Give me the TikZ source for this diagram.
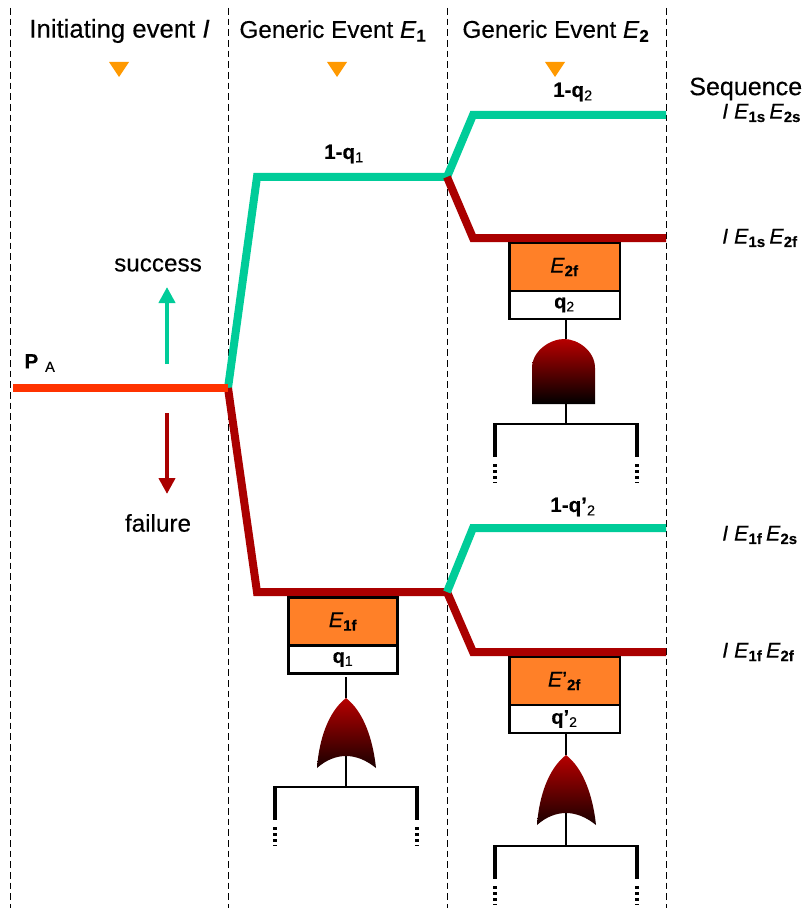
\documentclass[tikz,border=0pt]{standalone}
\usepackage{fontspec}
\setmainfont[FakeBold=0.25]{Liberation Sans}
\usetikzlibrary{arrows.meta}
\definecolor{goodgreen}{RGB}{0,204,153}
\definecolor{badred}{RGB}{170,0,0}
\definecolor{startred}{RGB}{255,51,0}
\definecolor{boxorange}{RGB}{255,128,40}
\definecolor{markorange}{RGB}{255,153,0}
\newcommand{\seqlabel}[2]{\textit{I E}\textsubscript{\textbf{#1}}\,\textit{E}\textsubscript{\textbf{#2}}}
\tikzset{
    column/.style={line width=0.6pt, dash pattern=on 5pt off 3pt},
    branch/.style={line width=6pt, line join=miter, miter limit=4},
    good/.style={branch, goodgreen},
    bad/.style={branch, badred},
    title/.style={font=\fontsize{18.2}{20}\selectfont, inner sep=0pt},
    prob/.style={font=\fontsize{15.5}{18}\selectfont\bfseries, inner sep=0pt},
    seq/.style={font=\fontsize{16}{20}\selectfont, inner sep=0pt, anchor=west},
    evbox/.style={draw=black, line width=2pt, fill=boxorange, minimum width=83pt, minimum height=36pt, inner sep=0pt, font=\fontsize{16}{20}\selectfont},
    qbox/.style={draw=black, line width=2pt, fill=white, minimum width=83pt, minimum height=21pt, inner sep=0pt, font=\fontsize{15}{17}\selectfont},
    wire/.style={line width=2pt, black},
    leg/.style={line width=3pt, black},
    dots/.style={line width=2.6pt, black, dash pattern=on 2.3pt off 2.2pt},
    marker/.style={fill=markorange, draw=none},
    andgate/.pic={
        \shade[top color=badred!85!red, bottom color=black]
            (-34,65) -- (-34,29) .. controls (-34,12) and (-16,0) .. (-2,0)
            .. controls (12,0) and (29,12) .. (29,29) -- (29,65) -- cycle;
        \coordinate (-in) at (0,0);
        \coordinate (-out) at (0,65);
    },
    orgate/.pic={
        \shade[top color=badred!85!red, bottom color=black!85!badred]
            (0,0) .. controls (-18,14) and (-27,42) .. (-29,70)
            .. controls (-20,62) and (-10,58) .. (0,58)
            .. controls (10,58) and (20,62) .. (30,70)
            .. controls (27,42) and (18,14) .. (0,0) -- cycle;
        \coordinate (-in) at (0,0);
        \coordinate (-out) at (0,58);
    },
    inputs/.pic={
        \coordinate (-top) at (0,0);
        \coordinate (-left) at (-71,0);
        \coordinate (-right) at (71,0);
        \draw[wire] (-left) -- (-right);
        \draw[leg] (-71,-1) -- (-71,33);
        \draw[leg] (71,-1) -- (71,33);
        \draw[dots] (-71,40) -- (-71,59);
        \draw[dots] (71,40) -- (71,59);
    },
}
\begin{document}
\begin{tikzpicture}[x=0.75pt,y=-0.75pt]
    \useasboundingbox (0,0) rectangle (802,909);

    % columns
    \foreach \xcol in {10,228,447,666}
        \draw[column] (\xcol,8) -- (\xcol,908);

    \node[title, font=\fontsize{19.3}{22}\selectfont] (titleI) at (119.5,31) {Initiating event \textit{I}};
    \node[title] (titleone) at (333,31) {Generic Event \textit{E}\textsubscript{\textbf{1}}};
    \node[title] (titletwo) at (556,31) {Generic Event \textit{E}\textsubscript{\textbf{2}}};
    \foreach \xcol in {119,337,555}
        \fill[marker] (\xcol-10,62) -- (\xcol+10,62) -- (\xcol,77) -- cycle;

    % tree points
    \coordinate (start) at (13,388);
    \coordinate (root) at (228,388);
    \coordinate (upA) at (257,177);
    \coordinate (upB) at (447,177);
    \coordinate (upC) at (473,115);
    \coordinate (upD) at (666,115);
    \coordinate (upE) at (473,238);
    \coordinate (upF) at (666,238);
    \coordinate (lowA) at (257,592);
    \coordinate (lowB) at (447,592);
    \coordinate (lowC) at (473,528);
    \coordinate (lowD) at (666,528);
    \coordinate (lowE) at (473,652);
    \coordinate (lowF) at (666,652);

    \draw[good] (root) -- (upA) -- (upB) -- (upC) -- (upD);
    \draw[bad] (upB) -- (upE) -- (upF);
    \draw[bad] (root) -- (lowA) -- (lowB) -- (lowE) -- (lowF);
    \draw[good] (lowB) -- (lowC) -- (lowD);
    \draw[branch, startred] (start) -- (root);

    % legend arrows
    \node[title] (success) at (158,265) {success};
    \node[title] (failure) at (158,523) {failure};
    \coordinate (arrowup) at (167,364);
    \coordinate (arrowdown) at (167,413);
    \draw[-{Triangle[length=12pt,width=12pt]}, goodgreen, line width=3pt] (arrowup) -- (167,287);
    \draw[-{Triangle[length=12pt,width=12pt]}, badred, line width=3pt] (arrowdown) -- (167,494);

    \node[prob] (pA) at (40,363) {P\,\,\textsubscript{\textmd{A}}};
    \node[prob] (qone) at (344,154) {1-q\textsubscript{\textmd{1}}};
    \node[prob] (qtwo) at (573,92) {1-q\textsubscript{\textmd{2}}};
    \node[prob] (qthree) at (573,507) {1-q’\textsubscript{\textmd{2}}};

    % sequences
    \node[seq, font=\fontsize{18.8}{22}\selectfont] (seqname) at (689,89) {Sequence};
    \node[seq] (seqA) at (722,113) {\seqlabel{1s}{2s}};
    \node[seq] (seqB) at (722,238) {\seqlabel{1s}{2f}};
    \node[seq] (seqC) at (722,535) {\seqlabel{1f}{2s}};
    \node[seq] (seqD) at (722,652) {\seqlabel{1f}{2f}};

    % upper E2 fault tree
    \node[evbox] (Etwof) at (564.5,267) {\textit{E}\textsubscript{\textbf{2f}}};
    \node[qbox] (qbtwo) at (564.5,305) {\textbf{q}\textsubscript{2}};
    \pic (gatetwo) at (566,339) {andgate};
    \pic (intwo) at (566,424) {inputs};
    \draw[wire] (gatetwo-in |- qbtwo.south) -- (gatetwo-in);
    \draw[wire] (gatetwo-out) -- (intwo-top);

    % E1 fault tree
    \node[evbox, minimum width=81.5pt] (Eonef) at (343,621.5) {\textit{E}\textsubscript{\textbf{1f}}};
    \node[qbox, minimum width=81.5pt] (qbone) at (343,659.5) {\textbf{q}\textsubscript{1}};
    \pic (gateone) at (346,698) {orgate};
    \pic (inone) at (346,787) {inputs};
    \draw[wire] (346,677) -- (gateone-in);
    \draw[wire] (gateone-out) -- (inone-top);

    % lower E2 fault tree
    \node[evbox] (Ethreef) at (564.5,681) {\textit{E}’\textsubscript{\textbf{2f}}};
    \node[qbox] (qbthree) at (564.5,719) {\textbf{q’}\textsubscript{2}};
    \pic (gatethree) at (566,755) {orgate};
    \pic (inthree) at (566,846) {inputs};
    \draw[wire] (gatethree-in |- qbthree.south) -- (gatethree-in);
    \draw[wire] (gatethree-out) -- (inthree-top);
\end{tikzpicture}
\end{document}
